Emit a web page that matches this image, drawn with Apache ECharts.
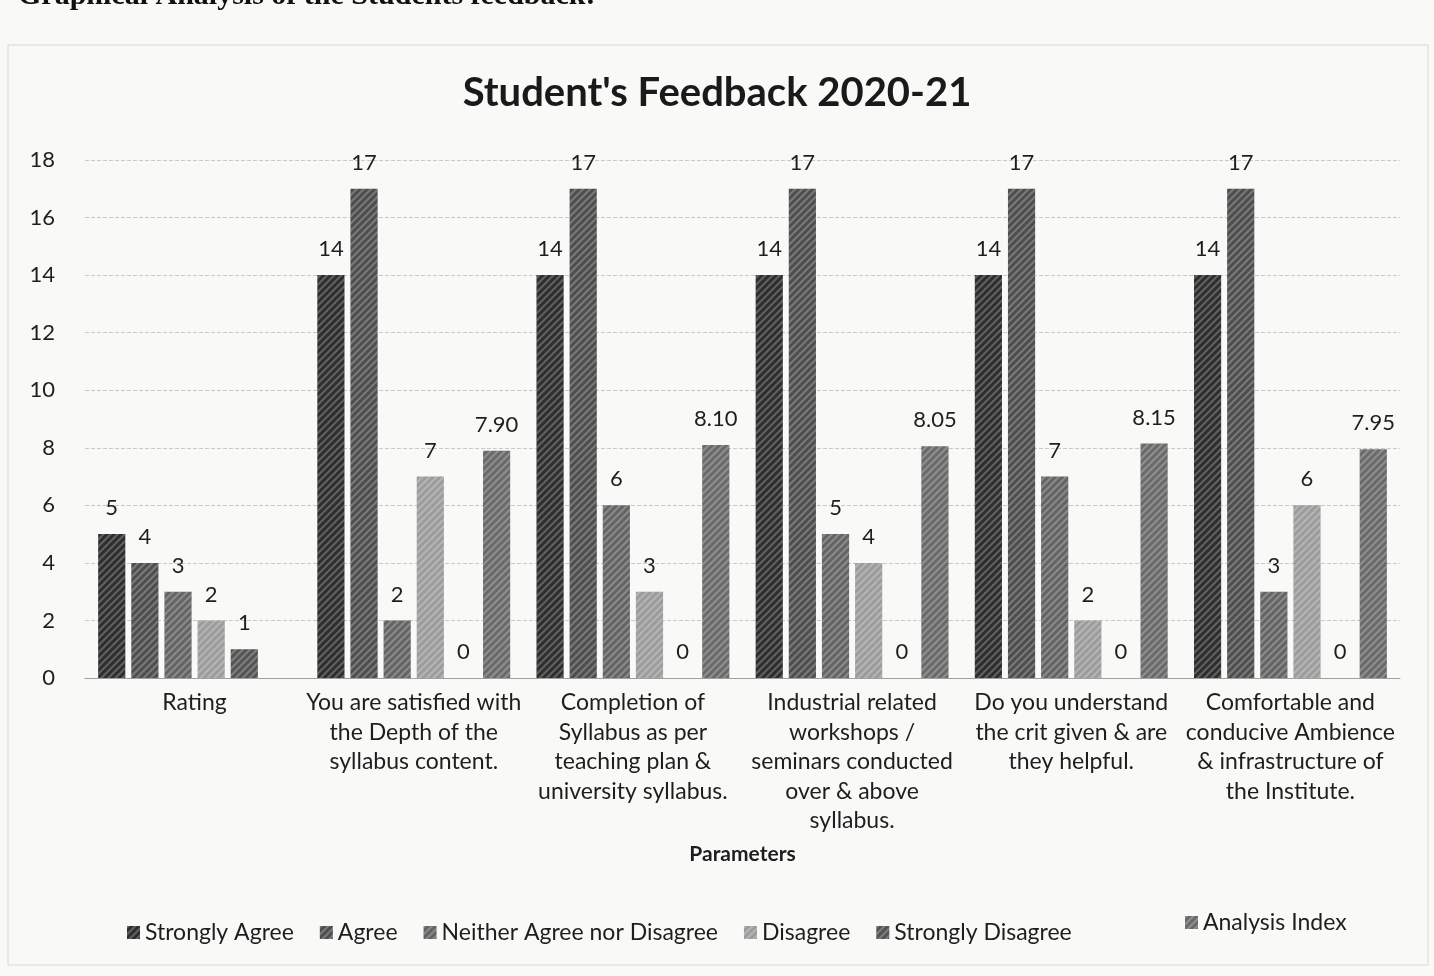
<!DOCTYPE html>
<html>
<head>
<meta charset="utf-8">
<script src="https://cdn.jsdelivr.net/npm/echarts@6/dist/echarts.min.js"></script>
<style>
html,body{margin:0;padding:0;background:#f9f9f7;}
#c{width:1434px;height:976px;}
</style>
</head>
<body>
<div id="c"></div>
<script>
const categories = [
  "Rating",
  "You are satisfied with\nthe Depth of the\nsyllabus content.",
  "Completion of\nSyllabus as per\nteaching plan &\nuniversity syllabus.",
  "Industrial related\nworkshops /\nseminars conducted\nover & above\nsyllabus.",
  "Do you understand\nthe crit given & are\nthey helpful.",
  "Comfortable and\nconducive Ambience\n& infrastructure of\nthe Institute."
];
const seriesNames = ["Strongly Agree","Agree","Neither Agree nor Disagree","Disagree","Strongly Disagree","Analysis Index"];
const stronglyAgree = [5, 14, 14, 14, 14, 14];
const agree = [4, 17, 17, 17, 17, 17];
const neither = [3, 2, 6, 5, 7, 3];
const disagree = [2, 7, 3, 4, 2, 6];
const stronglyDisagree = [1, 0, 0, 0, 0, 0];
const analysisIndex = [null, 7.90, 8.10, 8.05, 8.15, 7.95];
const yTicks = [0, 2, 4, 6, 8, 10, 12, 14, 16, 18];

const colors = ['#2e2e2e','#4e4e4e','#646464','#9c9c9c','#545454','#6a6a6a'];
const values = [stronglyAgree, agree, neither, disagree, stronglyDisagree, analysisIndex];
const FONT = 'Lato';

const series = seriesNames.map((n, i) => ({
  name: n,
  type: 'bar',
  data: values[i],
  barGap: '22%',
  barCategoryGap: '12%',
  itemStyle: {
    color: colors[i],
    decal: {
      symbol: 'rect',
      dashArrayX: [1, 0],
      dashArrayY: [1.5, 2.5],
      rotation: -Math.PI / 4,
      color: 'rgba(255,255,255,0.25)'
    }
  },
  label: {
    show: true,
    position: 'top',
    distance: 15,
    fontFamily: FONT,
    fontSize: 22,
    color: '#1e1e1e',
    formatter: p => (p.value == null ? '' : (i === 5 ? Number(p.value).toFixed(2) : String(p.value)))
  }
}));

const legendText = {fontFamily: FONT, fontSize: 23, color: '#1e1e1e'};

const chart = echarts.init(document.getElementById('c'), null, {renderer: 'canvas'});
chart.setOption({
  backgroundColor: '#f9f9f7',
  animation: false,
  title: {
    text: "Student's Feedback 2020-21",
    left: 'center',
    top: 68,
    textStyle: {fontFamily: FONT, fontSize: 40, fontWeight: 'bold', color: '#1a1a1a'}
  },
  graphic: [
    {type: 'text', left: 18, top: -19, style: {text: 'Graphical Analysis of the Students feedback:', font: 'bold 30px "Liberation Serif"', fill: '#111'}},
    {type: 'rect', shape: {x: 8, y: 45, width: 1420, height: 920}, style: {fill: 'none', stroke: '#d8d8d8', lineWidth: 1}, silent: true}
  ],
  legend: [
    {
      data: seriesNames.slice(0, 5),
      top: 916,
      left: 122,
      itemWidth: 13,
      itemHeight: 13,
      itemGap: 26,
      icon: 'rect',
      textStyle: legendText
    },
    {
      data: seriesNames.slice(5),
      top: 906,
      left: 1180,
      itemWidth: 13,
      itemHeight: 13,
      icon: 'rect',
      textStyle: legendText
    }
  ],
  grid: {left: 85, right: 34, top: 160, bottom: 298},
  xAxis: {
    type: 'category',
    data: categories,
    name: 'Parameters',
    nameLocation: 'middle',
    nameGap: 166,
    nameTextStyle: {fontFamily: FONT, fontSize: 21, fontWeight: 'bold', color: '#1e1e1e'},
    axisTick: {show: false},
    axisLine: {lineStyle: {color: '#a0a0a0'}},
    axisLabel: {interval: 0, fontFamily: FONT, fontSize: 23, color: '#1e1e1e', lineHeight: 29.5, margin: 10, verticalAlign: 'top'}
  },
  yAxis: {
    type: 'value',
    min: yTicks[0],
    max: yTicks[yTicks.length - 1],
    interval: 2,
    axisLine: {show: false},
    axisTick: {show: false},
    splitLine: {lineStyle: {color: '#d6c2c2', type: 'dashed'}},
    axisLabel: {fontFamily: FONT, fontSize: 22, color: '#1e1e1e', margin: 30}
  },
  series: series
});
</script>
</body>
</html>
